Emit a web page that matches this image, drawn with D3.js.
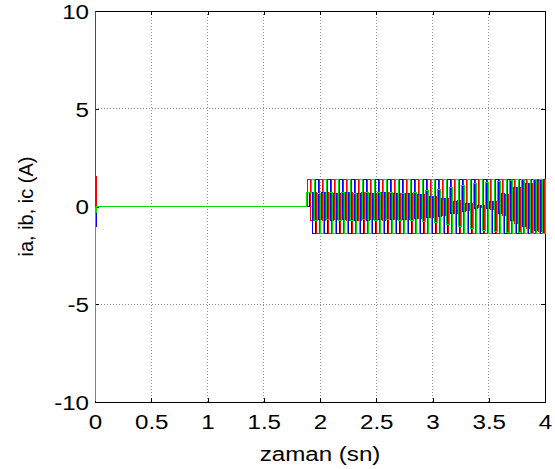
<!DOCTYPE html>
<meta charset="utf-8">
<style>
    body { margin: 0; background: #fff; }
    text { font-family: Arial, "Liberation Sans", sans-serif; fill: #000; }
    .grid line { stroke: #8c8c8c; stroke-dasharray: 1,2; shape-rendering: crispEdges; }
    .trace { fill: none; stroke-width: 1; shape-rendering: crispEdges; }
</style>

<div class="chart"></div>

<script src="https://cdn.jsdelivr.net/npm/d3@7"></script>

<script>
    // axis ticks
    var xTicks = [0, 0.5, 1, 1.5, 2, 2.5, 3, 3.5, 4];
    var yTicks = [-10, -5, 0, 5, 10];

    // start transient and idle part (time in s, current in A)
    var startT  = [0, 0, 0.003, 0.014, 0.02, 1.876];
    var startIa = [0, 10.6, 1.55, 0, 0, 0];
    var startIb = [0, -0.3, -1.0, 0, 0, 0];
    var startIc = [0, -9.9, -0.3, 0, 0, 0.7];

    // oscillating part: held levels every oscStep s, each phase starts a bit later
    var oscStart = 1.884444, oscStep = 0.0266667;
    var phaseDelay = [0, 0.0177778, 0.0355556];
    var oscIa = [
        1.38, -0.70, 0.70, -1.37,  1.40, -0.70, 0.71, -1.39,  1.37, -0.68, 0.68, -1.38,
        1.39, -0.70, 0.70, -1.36,  1.38, -0.71, 0.70, -1.37,  1.40, -0.68, 0.67, -1.39,
        1.37, -0.70, 0.70, -1.38,  1.39, -0.68, 0.67, -1.36,  1.38, -0.66, 0.64, -1.37,
        1.40, -0.61, 0.59, -1.39,  1.37, -0.56, 0.53, -1.38,  1.39, -0.47, 0.42, -1.36,
        1.38, -0.34, 0.29, -1.37,  1.40, -0.20, 0.15, -1.39,  1.37, -0.06, 0.04, -1.38,
        1.39, -0.16, 0.25, -1.36,  1.38, -0.48, 0.62, -1.37,  1.40, -0.85, 0.95, -1.39,
        1.37, -1.12, 1.18, -1.38,  1.39, -1.28, 1.31, -1.36,  1.38
    ];
    var oscIb = [
        0.70, -1.37, 1.38, -0.69,  0.71, -1.39, 1.40, -0.70,  0.68, -1.38, 1.37, -0.69,
        0.70, -1.36, 1.39, -0.71,  0.69, -1.37, 1.38, -0.70,  0.68, -1.39, 1.40, -0.67,
        0.70, -1.38, 1.37, -0.69,  0.67, -1.36, 1.39, -0.66,  0.64, -1.37, 1.38, -0.63,
        0.59, -1.39, 1.40, -0.57,  0.52, -1.38, 1.37, -0.50,  0.42, -1.36, 1.39, -0.38,
        0.28, -1.37, 1.38, -0.24,  0.14, -1.39, 1.40, -0.10,  0.03, -1.38, 1.37, -0.08,
        0.27, -1.36, 1.39, -0.36,  0.64, -1.37, 1.38, -0.72,  0.96, -1.39, 1.40, -1.02,
        1.19, -1.38, 1.37, -1.22,  1.31, -1.36, 1.39, -1.32,  1.30
    ];
    var oscIc = [
        1.39, -0.70, 0.69, -1.38,  1.38, -0.69, 0.70, -1.36,  1.40, -0.71, 0.70, -1.37,
        1.37, -0.70, 0.68, -1.39,  1.39, -0.69, 0.70, -1.38,  1.38, -0.70, 0.71, -1.36,
        1.40, -0.68, 0.70, -1.37,  1.37, -0.70, 0.69, -1.39,  1.39, -0.72, 0.74, -1.38,
        1.38, -0.77, 0.80, -1.36,  1.40, -0.84, 0.88, -1.37,  1.37, -0.93, 0.98, -1.39,
        1.39, -1.03, 1.08, -1.38,  1.38, -1.13, 1.17, -1.36,  1.40, -1.21, 1.25, -1.37,
        1.37, -1.28, 1.30, -1.39,  1.39, -1.32, 1.34, -1.38,  1.38, -1.35, 1.36, -1.36,
        1.40, -1.36, 1.37, -1.37,  1.37, -1.37, 1.38, -1.39,  1.38
    ];

    var svgW = 555, svgH = 469;
    var margin = {top: 11, right: 10, bottom: 67, left: 95},
        width = svgW - margin.left - margin.right,
        height = svgH - margin.top - margin.bottom;
    var fontSize = 21, stretch = 1.15;   // the picture's lettering is a little wide

    var x = d3.scaleLinear().domain([0, 4]).range([0, width]);
    var y = d3.scaleLinear().domain([-10, 10]).range([height, 0]);

    var svg = d3.select('.chart')
        .append('svg')
        .style('display', 'block')
        .attr('width', svgW)
        .attr('height', svgH);

    var g = svg.append('g')
        .attr('transform', 'translate(' + margin.left + ',' + margin.top + ')');

    function px(v) { return Math.floor(v + 0.01) + 0.5; }

    // grid
    var grid = g.append('g').attr('class', 'grid');
    grid.selectAll('.gx')
        .data(xTicks.slice(1, -1))
        .enter().append('line')
        .attr('x1', function(d) { return px(x(d)); })
        .attr('x2', function(d) { return px(x(d)); })
        .attr('y1', 0).attr('y2', height);
    grid.selectAll('.gy')
        .data(yTicks.slice(1, -1))
        .enter().append('line')
        .attr('y1', function(d) { return px(y(d)); })
        .attr('y2', function(d) { return px(y(d)); })
        .attr('x1', 0).attr('x2', width);

    // axes: box with inner ticks on all four sides
    var tickLen = 4;
    var xAxisB = d3.axisBottom(x).tickValues(xTicks).tickSizeInner(-tickLen).tickSizeOuter(0)
        .tickPadding(12).tickFormat(function(d) { return d; });
    var xAxisT = d3.axisTop(x).tickValues(xTicks).tickSizeInner(-tickLen).tickSizeOuter(0)
        .tickFormat('');
    var yAxisL = d3.axisLeft(y).tickValues(yTicks).tickSizeInner(-tickLen).tickSizeOuter(0)
        .tickPadding(6).tickFormat(function(d) { return d; });
    var yAxisR = d3.axisRight(y).tickValues(yTicks).tickSizeInner(-tickLen).tickSizeOuter(0)
        .tickFormat('');

    var axB = g.append('g').attr('transform', 'translate(0,' + height + ')').call(xAxisB);
    var axT = g.append('g').call(xAxisT);
    var axL = g.append('g').call(yAxisL);
    var axR = g.append('g').attr('transform', 'translate(' + width + ',0)').call(yAxisR);

    [axB, axT, axL, axR].forEach(function(a) {
        a.select('.domain').remove();
        a.selectAll('line').attr('stroke', '#000').attr('shape-rendering', 'crispEdges');
        a.selectAll('text')
            .attr('font-size', fontSize)
            .attr('font-family', 'Arial, "Liberation Sans", sans-serif')
            .attr('transform', 'scale(' + stretch + ',1)');
    });
    axL.selectAll('text').attr('dy', '0.35em').attr('x', -6 / stretch);

    g.append('rect')
        .attr('x', 0.5).attr('y', 0.5)
        .attr('width', width).attr('height', height)
        .attr('fill', 'none')
        .attr('stroke', '#000');

    // build the series
    function series(tStart, vStart, vOsc, delay) {
        var pts = tStart.map(function(t, i) { return [t, vStart[i]]; });
        vOsc.forEach(function(v, i) { pts.push([oscStart + delay + i * oscStep, v]); });
        return pts;
    }

    var traces = [
        {name: 'ia', color: '#ff0000', data: series(startT, startIa, oscIa, phaseDelay[0])},
        {name: 'ib', color: '#0000ff', data: series(startT, startIb, oscIb, phaseDelay[1])},
        {name: 'ic', color: '#00e000', data: series(startT, startIc, oscIc, phaseDelay[2])}
    ];

    var clip = svg.append('defs').append('clipPath').attr('id', 'plotclip');
    clip.append('rect')
        .attr('x', 0).attr('y', 0)
        .attr('width', width + 1).attr('height', height + 1);

    // snap to pixel centres so the thin strokes stay crisp
    var line = d3.line()
        .x(function(d) { return px(x(d[0])); })
        .y(function(d) { return px(y(d[1])); })
        .curve(d3.curveStepAfter);

    g.append('g')
        .attr('clip-path', 'url(#plotclip)')
        .selectAll('path')
        .data(traces)
        .enter().append('path')
        .attr('class', 'trace')
        .attr('stroke', function(d) { return d.color; })
        .attr('d', function(d) { return line(d.data); });

    // labels
    svg.append('text')
        .attr('transform', 'translate(' + (margin.left + width / 2) + ',461) scale(' + stretch + ',1)')
        .attr('text-anchor', 'middle')
        .attr('font-size', fontSize)
        .text('zaman (sn)');

    svg.append('text')
        .attr('transform', 'translate(33,' + (margin.top + height / 2) + ') rotate(-90)')
        .attr('text-anchor', 'middle')
        .attr('font-size', 20)
        .text('ia, ib, ic (A)');
</script>
